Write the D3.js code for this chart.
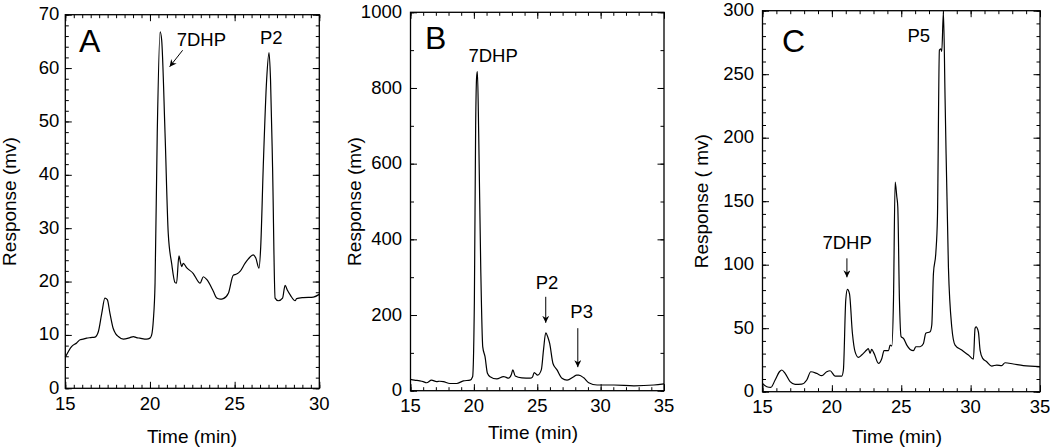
<!DOCTYPE html>
<html>
<head>
<meta charset="utf-8">
<script src="https://cdn.jsdelivr.net/npm/d3@7/dist/d3.min.js"></script>
<style>
  html, body { margin: 0; padding: 0; background: #fff; }
  svg { display: block; }
  text { font-family: "Liberation Sans", Arial, Helvetica, sans-serif; fill: #000; }
</style>
</head>
<body>
<svg id="chart" width="1050" height="448"></svg>
<script>
// ---------------- DATA ----------------
// Panel A: time (min) and response (mV)
const timeA = [15.0,15.37,15.67,15.87,16.06,16.26,16.5,16.75,16.95,17.15,17.34,17.48,17.64,17.83,17.98,18.13,18.43,18.82,19.02,19.2,19.4,19.8,20.0,20.1,20.2,20.3,20.43,20.6,20.69,20.89,21.08,21.28,21.48,21.57,21.71,21.8,21.87,21.97,22.16,22.56,22.85,22.96,23.15,23.35,23.74,23.94,24.14,24.33,24.63,24.92,25.12,25.32,25.61,25.8,26.1,26.25,26.44,26.54,26.69,26.89,27.03,27.12,27.24,27.39,27.58,27.83,27.98,28.11,28.3,28.57,28.66,29.06,29.65,30.0];
const respA = [5.8,7.8,8.5,9.1,9.2,9.4,9.5,9.6,10.6,14.0,16.9,16.6,14.0,11.2,10.2,9.7,9.2,9.5,9.7,9.5,9.4,9.2,9.4,10.0,12.8,19.7,47.8,66.8,65.3,47.8,29.0,23.4,19.8,19.7,24.8,23.6,22.8,23.4,22.6,21.5,20.0,19.7,20.9,20.4,18.2,16.9,16.7,16.8,17.8,21.2,21.4,21.9,23.4,24.2,25.0,24.4,22.5,26.5,41.5,57.8,62.9,57.8,41.5,16.9,16.4,16.9,19.3,18.4,17.4,16.4,16.8,17.0,17.1,17.6];

// Panel B
const timeB = [15.0,15.3,15.74,16.0,16.27,16.66,17.06,17.3,17.59,18.11,18.64,19.17,19.7,19.9,20.04,20.14,20.22,20.28,20.38,20.54,20.7,20.88,21.07,21.28,21.81,22.34,22.5,22.73,22.95,23.07,23.26,23.79,24.45,24.62,24.76,25.03,25.32,25.5,25.67,25.85,25.98,26.24,26.56,26.95,27.35,27.88,28.1,28.27,28.67,29.06,29.72,31.04,32.63,34.2,35.0];
const respB = [30,28,26,24,21,28,24,25,24,19,19,26,28,37,240,700,830,843,680,328,116,90,46,37,31,37,36,33,42,55,39,34,33,36,48,41,55,110,153,140,125,72,55,33,28,37,41,41,34,21,15,15,13,15,18];

// Panel C
const timeC = [15.0,15.31,15.6,15.91,16.22,16.39,16.63,16.99,17.35,17.83,18.19,18.48,18.91,19.27,19.63,19.87,20.23,20.71,20.83,21.0,21.12,21.27,21.48,21.67,21.91,22.15,22.51,22.63,22.75,22.87,23.04,23.36,23.6,23.76,24.08,24.2,24.32,24.44,24.56,24.68,24.75,24.87,24.99,25.16,25.4,25.64,25.88,26.05,26.36,26.6,26.77,27.08,27.2,27.32,27.49,27.61,27.75,27.85,27.92,28.04,28.16,28.4,28.64,28.88,29.36,29.84,30.2,30.32,30.39,30.56,30.68,30.87,31.16,31.52,31.88,32.24,32.48,33.08,33.8,35.0];
const respC = [6.6,3.9,3.4,9.2,15.7,17.1,14.4,7.9,5.8,6.0,9.2,15.7,14.4,12.6,15.7,16.5,12.3,12.3,17.1,72,80.6,77,46,31.5,27,28.9,32.8,34,30.2,33.3,30.2,22.3,26.2,32.3,32.3,36.7,36,72,165,153.5,145.7,72,43.3,42,36.7,33.3,32.3,35.4,35.4,38,46,47.2,52.5,93,109,138,269,270,268,299,230,98,51,36.7,32.8,28.9,25.7,50,51,47,32.8,26.2,23.6,20.2,21,20.5,22.8,21.8,20.5,19.7];

// Axis ticks
const xTicksA = [15, 20, 25, 30];
const yTicksA = [0, 10, 20, 30, 40, 50, 60, 70];
const xTicksB = [15, 20, 25, 30, 35];
const yTicksB = [0, 200, 400, 600, 800, 1000];
const xTicksC = [15, 20, 25, 30, 35];
const yTicksC = [0, 50, 100, 150, 200, 250, 300];

// Labels
const panelLetters = ["A", "B", "C"];
const xTitles = ["Time (min)", "Time (min)", "Time (min)"];
const yTitles = ["Response (mv)", "Response (mv)", "Response ( mv)"];
// peak annotations: [label, time, value]
const annotA = [["7DHP", 20.6, 66.8], ["P2", 27.03, 62.9]];
const annotB = [["7DHP", 20.28, 843], ["P2", 25.67, 153], ["P3", 28.2, 41]];
const annotC = [["7DHP", 21.12, 80.6], ["P5", 28.04, 299]];

// ---------------- LAYOUT ----------------
const svg = d3.select("#chart");
const defs = svg.append("defs");
defs.append("marker")
  .attr("id", "ah").attr("viewBox", "0 0 10 10")
  .attr("refX", 10).attr("refY", 5)
  .attr("markerWidth", 7).attr("markerHeight", 7)
  .attr("markerUnits", "userSpaceOnUse")
  .attr("orient", "auto")
  .append("path").attr("d", "M0,0 L10,5 L0,10 L3,5 Z").attr("fill", "#000");

const panels = [
  { t: timeA, v: respA, xd: [15, 30], yd: [0, 70], xt: xTicksA, yt: yTicksA, xMinor: 0.5, yMinor: 2,
    box: { l: 65.3, r: 319.3, t: 14.7, b: 388.3 }, ygap: 6, ytx: 15.5, xty: 443, xtitleX: 192,
    letter: { x: 79, y: 51.5 } },
  { t: timeB, v: respB, xd: [15, 35], yd: [0, 1000], xt: xTicksB, yt: yTicksB, xMinor: 1, yMinor: 100,
    box: { l: 410.5, r: 664, t: 12.3, b: 390.7 }, ygap: 8.5, ytx: 361, xty: 439, xtitleX: 533,
    letter: { x: 425, y: 49.3 } },
  { t: timeC, v: respC, xd: [15, 35], yd: [0, 300], xt: xTicksC, yt: yTicksC, xMinor: 1, yMinor: 10,
    box: { l: 762.5, r: 1040, t: 10.7, b: 391.7 }, ygap: 8.5, ytx: 708, xty: 443, xtitleX: 897,
    letter: { x: 782, y: 51.7 } }
];

const fs = 18.5;

panels.forEach((p, i) => {
  const g = svg.append("g");
  const x = d3.scaleLinear().domain(p.xd).range([p.box.l, p.box.r]);
  const y = d3.scaleLinear().domain(p.yd).range([p.box.b, p.box.t]);
  const W = p.box.r - p.box.l, H = p.box.b - p.box.t;

  const minorX = d3.range(p.xd[0], p.xd[1] + 1e-9, p.xMinor);
  const minorY = d3.range(p.yd[0], p.yd[1] + 1e-9, p.yMinor);

  // ticks (inward, all four sides)
  const mk = (axisFn, scale, vals, size, tr) =>
    g.append("g").attr("transform", tr)
      .call(axisFn(scale).tickValues(vals).tickSize(size).tickFormat(""))
      .call(s => s.select(".domain").remove())
      .call(s => s.selectAll("line").attr("stroke", "#000").attr("stroke-width", 1));

  mk(d3.axisBottom, x, minorX, -3.5, `translate(0,${p.box.b})`);
  mk(d3.axisTop, x, minorX, -3.5, `translate(0,${p.box.t})`);
  mk(d3.axisLeft, y, minorY, -3.5, `translate(${p.box.l},0)`);
  mk(d3.axisRight, y, minorY, -3.5, `translate(${p.box.r},0)`);
  mk(d3.axisBottom, x, p.xt, -6.5, `translate(0,${p.box.b})`);
  mk(d3.axisTop, x, p.xt, -6.5, `translate(0,${p.box.t})`);
  mk(d3.axisLeft, y, p.yt, -6.5, `translate(${p.box.l},0)`);
  mk(d3.axisRight, y, p.yt, -6.5, `translate(${p.box.r},0)`);

  // tick labels
  g.append("g").selectAll("text").data(p.xt).join("text")
    .attr("x", d => x(d)).attr("y", p.box.b + 21.5)
    .attr("text-anchor", "middle").attr("font-size", fs).text(d => d);
  g.append("g").selectAll("text").data(p.yt).join("text")
    .attr("x", p.box.l - p.ygap).attr("y", d => y(d)).attr("dy", "0.3em")
    .attr("text-anchor", "end").attr("font-size", fs).text(d => d);

  // frame
  g.append("rect").attr("x", p.box.l).attr("y", p.box.t).attr("width", W).attr("height", H)
    .attr("fill", "none").attr("stroke", "#000").attr("stroke-width", 1.3);

  // trace
  const pts = p.t.map((tt, k) => [tt, p.v[k]]);
  const line = d3.line().x(d => x(d[0])).y(d => y(d[1])).curve(d3.curveMonotoneX);
  g.append("path").datum(pts).attr("d", line)
    .attr("fill", "none").attr("stroke", "#000").attr("stroke-width", 1.2).attr("stroke-linejoin", "round");

  // titles
  g.append("text").attr("x", p.xtitleX).attr("y", p.xty).attr("text-anchor", "middle")
    .attr("font-size", fs + 0.5).text(xTitles[i]);
  g.append("text").attr("transform", `translate(${p.ytx},${(p.box.t + p.box.b) / 2}) rotate(-90)`)
    .attr("text-anchor", "middle").attr("font-size", fs + 0.5).text(yTitles[i]);
  g.append("text").attr("x", p.letter.x).attr("y", p.letter.y).attr("font-size", 32).text(panelLetters[i]);

  p.x = x; p.y = y; p.g = g;
});

// ---------------- ANNOTATIONS ----------------
function label(g, txt, xx, yy) {
  g.append("text").attr("x", xx).attr("y", yy).attr("font-size", fs).text(txt);
}
function arrow(g, x1, y1, x2, y2) {
  g.append("line").attr("x1", x1).attr("y1", y1).attr("x2", x2).attr("y2", y2)
    .attr("stroke", "#000").attr("stroke-width", 1).attr("marker-end", "url(#ah)");
}
{
  const p = panels[0];
  const a0 = annotA[0], a1 = annotA[1];
  label(p.g, a0[0], p.x(a0[1]) + 16.5, p.y(a0[2]) + 14);
  arrow(p.g, p.x(a0[1]) + 22.5, p.y(a0[2]) + 18.5, p.x(a0[1]) + 9.5, p.y(a0[2]) + 35);
  label(p.g, a1[0], p.x(a1[1]) - 9, p.y(a1[2]) - 9);
}
{
  const p = panels[1];
  const a0 = annotB[0], a1 = annotB[1], a2 = annotB[2];
  label(p.g, a0[0], p.x(a0[1]) - 9, p.y(a0[2]) - 10);
  label(p.g, a1[0], p.x(a1[1]) - 10, p.y(a1[2]) - 44);
  arrow(p.g, p.x(a1[1]), p.y(a1[2]) - 36, p.x(a1[1]), p.y(a1[2]) - 10);
  label(p.g, a2[0], p.x(a2[1]) - 7.5, p.y(a2[2]) - 57);
  arrow(p.g, p.x(a2[1]), p.y(a2[2]) - 47, p.x(a2[1]), p.y(a2[2]) - 8);
}
{
  const p = panels[2];
  const a0 = annotC[0], a1 = annotC[1];
  label(p.g, a0[0], p.x(a0[1]) - 25, p.y(a0[2]) - 40);
  arrow(p.g, p.x(a0[1]) - 0.5, p.y(a0[2]) - 31, p.x(a0[1]) - 0.5, p.y(a0[2]) - 12);
  label(p.g, a1[0], p.x(a1[1]) - 36, p.y(a1[2]) + 30.5);
}
</script>
</body>
</html>
